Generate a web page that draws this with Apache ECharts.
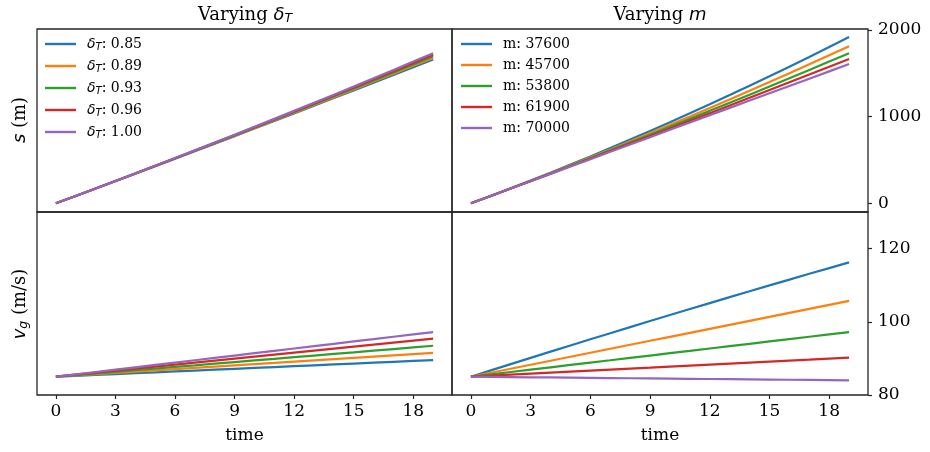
<!DOCTYPE html>
<html><head><meta charset="utf-8">
<script src="https://cdn.jsdelivr.net/npm/echarts@6/dist/echarts.min.js"></script>
<style>html,body{margin:0;padding:0;background:#fff}#c{width:930px;height:452px}</style>
</head><body><div id="c"></div>
<script>
const times = [0,1,2,3,4,5,6,7,8,9,10,11,12,13,14,15,16,17,18,19];
const deltaLabels = ['0.85','0.89','0.93','0.96','1.00'];
const massLabels = ['37600','45700','53800','61900','70000'];
const xTicks = [0,3,6,9,12,15,18];
const sTicks = [0,1000,2000];
const vTicks = [80,100,120];
const colors = ['#1f77b4','#ff7f0e','#2ca02c','#d62728','#9467bd'];

// distance s (m), varying delta_T
const sD085 = [0,85.1,170.5,256.1,341.9,428.0,514.3,600.9,687.7,774.7,862.0,949.5,1037.2,1125.2,1213.5,1301.9,1390.7,1479.6,1568.8,1658.2];
const sD089 = [0,85.2,170.7,256.5,342.7,429.3,516.2,603.4,690.9,778.9,867.1,955.7,1044.6,1133.9,1223.5,1313.5,1403.8,1494.4,1585.4,1676.7];
const sD093 = [0,85.2,170.9,257.0,343.6,430.6,518.0,605.9,694.2,783.0,872.2,961.9,1052.0,1142.6,1233.6,1325.0,1416.9,1509.3,1602.0,1695.3];
const sD096 = [0,85.3,171.1,257.5,344.4,431.8,519.9,608.4,697.5,787.2,877.4,968.1,1059.4,1151.3,1243.6,1336.6,1430.1,1524.1,1618.7,1713.8];
const sD100 = [0,85.3,171.3,257.9,345.1,433.0,521.6,610.7,700.5,791.0,882.1,973.8,1066.2,1159.3,1252.9,1347.2,1442.2,1537.8,1634.0,1730.9];
// ground speed v_g (m/s), varying delta_T
const vD085 = [85,85.24,85.48,85.72,85.96,86.20,86.44,86.68,86.92,87.16,87.40,87.63,87.87,88.11,88.35,88.59,88.83,89.07,89.31,89.55];
const vD089 = [85,85.34,85.68,86.03,86.37,86.71,87.05,87.39,87.74,88.08,88.42,88.76,89.11,89.45,89.79,90.13,90.47,90.82,91.16,91.50];
const vD093 = [85,85.44,85.89,86.33,86.78,87.22,87.67,88.11,88.56,89.00,89.45,89.89,90.34,90.78,91.23,91.67,92.12,92.56,93.00,93.45];
const vD096 = [85,85.55,86.09,86.64,87.19,87.74,88.28,88.83,89.38,89.93,90.47,91.02,91.57,92.12,92.66,93.21,93.76,94.31,94.85,95.40];
const vD100 = [85,85.64,86.28,86.93,87.57,88.21,88.85,89.49,90.14,90.78,91.42,92.06,92.71,93.35,93.99,94.63,95.27,95.92,96.56,97.20];
// distance s (m), varying m
const sM37600 = [0,85.9,173.4,262.7,353.7,446.4,540.8,636.9,734.6,834.0,935.0,1037.7,1142.0,1247.9,1355.4,1464.6,1575.3,1687.6,1801.5,1917.0];
const sM45700 = [0,85.5,172.2,259.9,348.7,438.6,529.6,621.7,714.9,809.1,904.5,1000.9,1098.4,1197.1,1296.8,1397.6,1499.5,1602.4,1706.5,1811.7];
const sM53800 = [0,85.3,171.3,257.9,345.1,433.0,521.6,610.7,700.5,791.0,882.1,973.8,1066.2,1159.3,1252.9,1347.2,1442.2,1537.8,1634.0,1730.9];
const sM61900 = [0,85.1,170.5,256.2,342.2,428.4,514.9,601.7,688.8,776.1,863.7,951.6,1039.7,1128.1,1216.8,1305.8,1395.0,1484.6,1574.3,1664.4];
const sM70000 = [0,85.0,169.9,254.8,339.6,424.3,509.1,593.7,678.3,762.9,847.4,931.8,1016.2,1100.6,1184.8,1269.1,1353.3,1437.4,1521.5,1605.5];
// ground speed v_g (m/s), varying m
const vM37600 = [85,86.73,88.44,90.15,91.85,93.54,95.22,96.89,98.55,100.21,101.85,103.49,105.11,106.73,108.34,109.94,111.53,113.11,114.68,116.25];
const vM45700 = [85,86.09,87.18,88.27,89.36,90.45,91.54,92.63,93.72,94.81,95.90,96.98,98.07,99.16,100.25,101.34,102.43,103.52,104.61,105.70];
const vM53800 = [85,85.64,86.28,86.93,87.57,88.21,88.85,89.49,90.14,90.78,91.42,92.06,92.71,93.35,93.99,94.63,95.27,95.92,96.56,97.20];
const vM61900 = [85,85.27,85.55,85.82,86.09,86.37,86.64,86.92,87.19,87.46,87.74,88.01,88.28,88.56,88.83,89.11,89.38,89.65,89.93,90.20];
const vM70000 = [85,84.95,84.89,84.84,84.79,84.74,84.68,84.63,84.58,84.53,84.47,84.42,84.37,84.32,84.26,84.21,84.16,84.11,84.05,84.00];

const sDelta = [sD085,sD089,sD093,sD096,sD100];
const vDelta = [vD085,vD089,vD093,vD096,vD100];
const sMass = [sM37600,sM45700,sM53800,sM61900,sM70000];
const vMass = [vM37600,vM45700,vM53800,vM61900,vM70000];

const SERIF = 'DejaVu Serif';
const SANS = 'DejaVu Sans';
const TXT = '#000';
const FRAME = '#262626';

const chart = echarts.init(document.getElementById('c'), null, {renderer:'canvas'});

const G = [
  {left:37, top:29, width:415, height:183},
  {left:452, top:29, width:416, height:183},
  {left:37, top:212, width:415, height:183},
  {left:452, top:212, width:416, height:183}
];

function xAx(i, bottom){
  const ax = {
    type:'value', gridIndex:i, min:-0.95, max:19.95, position:'bottom',
    splitLine:{show:false},
    axisLine:{show:false, onZero:false},
    axisTick:{show:false},
    axisLabel:{show:false}
  };
  if (bottom){
    ax.axisTick = {show:true, customValues:xTicks, length:4, lineStyle:{color:FRAME,width:1.2}};
    ax.axisLabel = {show:true, customValues:xTicks, margin:8, fontSize:17, fontFamily:SERIF, color:TXT, formatter:(v)=>String(v)};
    ax.name = 'time'; ax.nameLocation = 'middle'; ax.nameGap = 32;
    ax.nameTextStyle = {fontSize:17, fontFamily:SERIF, color:TXT};
  }
  return ax;
}
function yAx(i, top, right){
  const ticks = top ? sTicks : vTicks;
  const ax = {
    type:'value', gridIndex:i, position: right ? 'right' : 'left',
    min: top ? -100 : 80, max: top ? 2010 : 130,
    splitLine:{show:false},
    axisLine:{show:false, onZero:false},
    axisTick:{show:false},
    axisLabel:{show:false}
  };
  if (right){
    ax.axisTick = {show:true, customValues:ticks, length:4, lineStyle:{color:FRAME,width:1.2}};
    ax.axisLabel = {show:true, customValues:ticks, margin:10, fontSize:17, fontFamily:SERIF, color:TXT, formatter:(v)=>String(v)};
  }
  return ax;
}

const series = [];
for (let k=0;k<5;k++){
  const nameD = 'δT: ' + deltaLabels[k];
  const nameM = 'm: ' + massLabels[k];
  const ls = {width:2.2, color:colors[k]};
  series.push({type:'line', name:nameD, xAxisIndex:0, yAxisIndex:0, showSymbol:false, symbol:'none', color:colors[k], lineStyle:ls, data:times.map((t,j)=>[t,sDelta[k][j]])});
  series.push({type:'line', name:nameD, xAxisIndex:2, yAxisIndex:2, showSymbol:false, symbol:'none', color:colors[k], lineStyle:ls, data:times.map((t,j)=>[t,vDelta[k][j]])});
  series.push({type:'line', name:nameM, xAxisIndex:1, yAxisIndex:1, showSymbol:false, symbol:'none', color:colors[k], lineStyle:ls, data:times.map((t,j)=>[t,sMass[k][j]])});
  series.push({type:'line', name:nameM, xAxisIndex:3, yAxisIndex:3, showSymbol:false, symbol:'none', color:colors[k], lineStyle:ls, data:times.map((t,j)=>[t,vMass[k][j]])});
}

const legRich = {
  d:{fontFamily:SANS, fontStyle:'italic', fontSize:14, lineHeight:16, color:TXT, padding:[0,0,0,6]},
  sub:{fontFamily:SANS, fontStyle:'italic', fontSize:10, lineHeight:8, verticalAlign:'bottom', color:TXT},
  n:{fontFamily:SERIF, fontSize:14, lineHeight:16, color:TXT},
  np:{fontFamily:SERIF, fontSize:14, lineHeight:16, color:TXT, padding:[0,0,0,6]}
};
const legendBase = {
  orient:'vertical', icon:'rect', itemWidth:31, itemHeight:2.4, itemGap:7,
  selectedMode:false, textStyle:{rich:legRich, fontSize:14, color:TXT}, padding:0
};

const titleRich = {
  n:{fontFamily:SERIF, fontSize:18, lineHeight:20, fill:TXT},
  i:{fontFamily:SANS, fontStyle:'italic', fontSize:18, lineHeight:20, fill:TXT},
  sub:{fontFamily:SANS, fontStyle:'italic', fontSize:12.5, lineHeight:8, verticalAlign:'bottom', fill:TXT}
};

chart.setOption({
  animation:false,
  backgroundColor:'#fff',
  grid: G.map(g=>Object.assign({show:true, borderColor:FRAME, borderWidth:1.3, backgroundColor:'transparent'}, g)),
  xAxis:[xAx(0,false), xAx(1,false), xAx(2,true), xAx(3,true)],
  yAxis:[yAx(0,true,false), yAx(1,true,true), yAx(2,false,false), yAx(3,false,true)],
  legend:[
    Object.assign({}, legendBase, {left:45, top:37, data:deltaLabels.map(v=>'δT: '+v),
      formatter:(name)=>'{d|δ}{sub|T}{n|: '+name.slice(4)+'}'}),
    Object.assign({}, legendBase, {left:461, top:37, data:massLabels.map(v=>'m: '+v),
      formatter:(name)=>'{np|'+name+'}'})
  ],
  graphic:[
    {type:'text', x:245, y:15, style:{text:'{n|Varying }{i|δ}{sub|T}', rich:titleRich, align:'center', verticalAlign:'middle', fill:TXT}},
    {type:'text', x:660, y:15, style:{text:'{n|Varying }{i|m}', rich:titleRich, align:'center', verticalAlign:'middle', fill:TXT}},
    {type:'text', x:20, y:120, rotation:Math.PI/2, style:{text:'{i|s}{n| (m)}', rich:titleRich, align:'center', verticalAlign:'middle', fill:TXT}},
    {type:'text', x:20, y:304, rotation:Math.PI/2, style:{text:'{i|v}{sub|g}{n| (m/s)}', rich:titleRich, align:'center', verticalAlign:'middle', fill:TXT}}
  ],
  series: series
});
</script></body></html>
